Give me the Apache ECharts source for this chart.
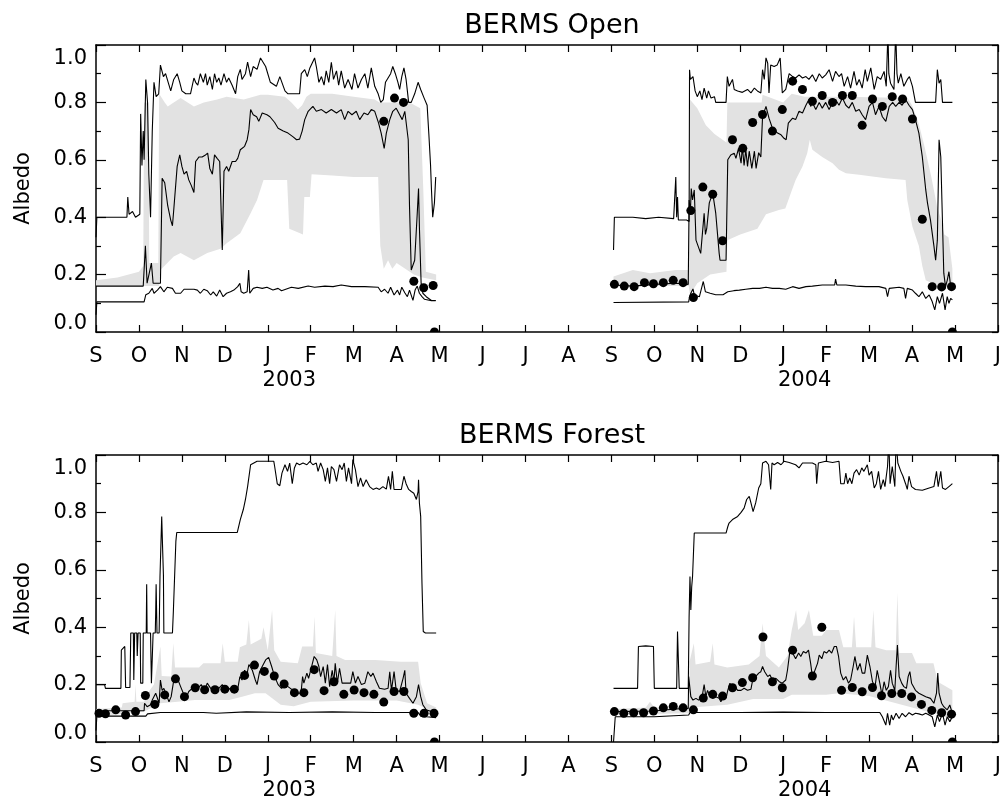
<!DOCTYPE html>
<html>
<head>
    <meta charset="UTF-8">
    <title>BERMS Albedo</title>
    <script src="https://cdn.jsdelivr.net/npm/echarts@6/dist/echarts.min.js"></script>
    <style>
        html, body { margin: 0; padding: 0; background: #fff; }
        #chartContainer { width: 1004px; height: 803px; }
    </style>
</head>
<body>
<div id="chartContainer"></div>
<script>
    // x = months since 1 Sep 2002, y = albedo
    var monthLabels = ['S','O','N','D','J','F','M','A','M','J','J','A','S','O','N','D','J','F','M','A','M','J'];
    var yearTicks = [4.5, 16.5];
    var yearLabels = ['2003', '2004'];
    var panelTitles = ['BERMS Open', 'BERMS Forest'];

    // ---- BERMS Open, winter 2002/03 ----
    var openMax1 = [[0,0.33],[0.02,0.40],[0.3,0.40],[0.5,0.40],[0.72,0.40],[0.74,0.47],[0.77,0.41],[0.85,0.42],[0.92,0.40],[1.02,0.41],
        [1.04,0.76],[1.07,0.58],[1.10,0.70],[1.12,0.60],[1.16,0.88],[1.20,0.80],[1.23,0.55],[1.27,0.40],[1.31,0.70],[1.35,0.87],[1.40,0.82],[1.46,0.83],[1.50,0.93],
        [1.57,0.89],[1.62,0.90],[1.70,0.86],[1.74,0.84],[1.81,0.88],[1.89,0.90],[1.95,0.87],[2.0,0.84],[2.09,0.83],[2.2,0.83],[2.28,0.885],[2.32,0.87],[2.37,0.86],
        [2.43,0.90],[2.5,0.87],[2.55,0.90],[2.59,0.86],[2.65,0.89],[2.71,0.845],[2.76,0.90],[2.81,0.87],[2.86,0.885],[2.91,0.86],[2.98,0.90],[3.04,0.87],[3.09,0.885],
        [3.17,0.86],[3.25,0.83],[3.30,0.89],[3.36,0.915],[3.40,0.88],[3.48,0.90],[3.53,0.94],[3.6,0.89],[3.66,0.925],[3.75,0.915],[3.83,0.955],[3.87,0.96],[3.95,0.925],
        [4.06,0.87],[4.20,0.856],[4.28,0.89],[4.40,0.84],[4.47,0.83],[4.74,0.83],[4.78,0.90],[4.86,0.914],[4.92,0.89],[4.98,0.92],[5.09,0.955],[5.13,0.925],[5.19,0.87],
        [5.25,0.89],[5.31,0.86],[5.36,0.91],[5.42,0.87],[5.48,0.94],[5.53,0.88],[5.60,0.91],[5.65,0.86],[5.71,0.91],[5.79,0.85],[5.87,0.88],[5.96,0.845],[6.02,0.90],
        [6.10,0.85],[6.18,0.88],[6.26,0.90],[6.33,0.85],[6.41,0.92],[6.49,0.856],[6.57,0.83],[6.63,0.80],[6.69,0.81],[6.74,0.87],[6.80,0.885],[6.86,0.90],[6.91,0.925],
        [6.97,0.90],[7.03,0.87],[7.07,0.845],[7.12,0.89],[7.17,0.92],[7.22,0.88],[7.28,0.80],[7.34,0.80],[7.42,0.83],[7.50,0.87],[7.56,0.845],[7.64,0.815],[7.71,0.79],
        [7.75,0.69],[7.79,0.58],[7.81,0.50],[7.84,0.40],[7.88,0.45],[7.91,0.54]];
    var openMean1 = [[0,0.16],[0.7,0.16],[0.72,0.165],[1.1,0.16],[1.15,0.30],[1.19,0.17],[1.23,0.17],[1.29,0.24],[1.33,0.17],[1.50,0.17],[1.54,0.536],[1.60,0.52],
        [1.67,0.44],[1.74,0.39],[1.78,0.37],[1.81,0.425],[1.89,0.577],[1.95,0.617],[2.0,0.577],[2.05,0.55],[2.11,0.56],[2.16,0.53],[2.22,0.51],[2.28,0.486],[2.32,0.594],
        [2.40,0.61],[2.47,0.61],[2.55,0.617],[2.60,0.623],[2.65,0.57],[2.71,0.55],[2.76,0.617],[2.82,0.605],[2.88,0.594],[2.94,0.286],[2.98,0.56],[3.04,0.577],[3.09,0.56],
        [3.17,0.594],[3.25,0.594],[3.30,0.605],[3.36,0.635],[3.46,0.647],[3.52,0.67],[3.56,0.705],[3.60,0.775],[3.66,0.757],[3.74,0.75],[3.79,0.734],[3.87,0.763],
        [3.98,0.757],[4.05,0.75],[4.16,0.73],[4.24,0.71],[4.36,0.70],[4.47,0.693],[4.59,0.68],[4.67,0.67],[4.74,0.672],[4.80,0.70],[4.86,0.74],[4.94,0.769],[5.05,0.786],
        [5.13,0.769],[5.25,0.775],[5.36,0.763],[5.48,0.775],[5.60,0.763],[5.71,0.775],[5.79,0.74],[5.87,0.769],[5.96,0.757],[6.06,0.769],[6.14,0.74],[6.24,0.763],
        [6.33,0.757],[6.41,0.775],[6.49,0.769],[6.58,0.728],[6.64,0.693],[6.71,0.64],[6.76,0.693],[6.84,0.74],[6.91,0.769],[6.99,0.78],[7.07,0.757],[7.13,0.74],
        [7.19,0.769],[7.22,0.775],[7.27,0.67],[7.30,0.437],[7.34,0.216],[7.38,0.216],[7.42,0.25],[7.48,0.414],[7.51,0.50],[7.53,0.367],[7.57,0.17],[7.61,0.135],
        [7.69,0.123],[7.81,0.11],[7.91,0.11]];
    var openMin1 = [[0,0.06],[0.02,0.105],[1.12,0.105],[1.16,0.13],[1.23,0.135],[1.31,0.152],[1.35,0.135],[1.43,0.146],[1.50,0.158],[1.58,0.14],[1.66,0.156],
        [1.78,0.152],[1.85,0.135],[1.97,0.135],[2.05,0.149],[2.28,0.149],[2.36,0.146],[2.43,0.135],[2.51,0.149],[2.59,0.144],[2.67,0.129],[2.73,0.14],[2.81,0.125],
        [2.88,0.146],[2.96,0.123],[3.04,0.135],[3.13,0.14],[3.21,0.146],[3.30,0.158],[3.35,0.17],[3.38,0.14],[3.44,0.135],[3.52,0.14],[3.555,0.216],[3.58,0.135],
        [3.66,0.152],[3.75,0.156],[3.87,0.152],[3.98,0.156],[4.12,0.146],[4.24,0.152],[4.32,0.144],[4.55,0.156],[4.71,0.152],[4.94,0.16],[5.09,0.156],[5.33,0.16],
        [5.52,0.158],[5.71,0.164],[5.95,0.158],[6.26,0.158],[6.57,0.156],[6.64,0.14],[6.72,0.149],[6.80,0.135],[6.86,0.156],[6.94,0.129],[7.02,0.146],[7.07,0.129],
        [7.12,0.156],[7.19,0.137],[7.25,0.123],[7.30,0.146],[7.38,0.11],[7.43,0.146],[7.48,0.16],[7.53,0.135],[7.59,0.123],[7.65,0.114],[7.81,0.109],[7.91,0.109]];
    var openBandHi1 = [[0,0.18],[0.5,0.19],[1.0,0.21],[1.10,0.23],[1.12,0.80],[1.22,0.80],[1.24,0.24],[1.45,0.24],[1.47,0.83],[1.60,0.80],[1.67,0.786],[1.81,0.80],
        [1.97,0.815],[2.28,0.786],[2.51,0.80],[2.82,0.81],[3.04,0.82],[3.44,0.81],[3.83,0.827],[4.0,0.827],[4.40,0.82],[4.55,0.80],[4.70,0.775],[4.80,0.79],[4.90,0.82],
        [5.0,0.83],[5.5,0.83],[6.0,0.82],[6.49,0.81],[6.60,0.80],[7.30,0.80],[7.55,0.78],[7.62,0.50],[7.68,0.21],[7.92,0.20]];
    var openBandLo1 = [[0,0.16],[1.47,0.16],[1.50,0.216],[1.66,0.24],[1.81,0.263],[1.97,0.275],[2.28,0.25],[2.59,0.275],[2.9,0.29],[3.05,0.31],[3.36,0.344],
        [3.60,0.414],[3.75,0.46],[3.9,0.53],[4.45,0.53],[4.5,0.36],[4.82,0.34],[4.85,0.47],[4.98,0.47],[5.02,0.55],[5.5,0.545],[6.0,0.54],[6.57,0.54],[6.62,0.30],
        [6.70,0.22],[6.80,0.25],[6.90,0.22],[7.0,0.24],[7.2,0.22],[7.4,0.20],[7.6,0.19],[7.92,0.18]];
    var openDots1 = [[6.70,0.734],[6.95,0.815],[7.16,0.80],[7.40,0.177],[7.63,0.154],[7.85,0.162]];
    var openZero1 = [[7.88,0]];

    // ---- BERMS Open, winter 2003/04 ----
    var openMax2 = [[12.05,0.286],[12.07,0.40],[12.5,0.40],[12.8,0.395],[13.1,0.40],[13.45,0.395],[13.49,0.40],[13.50,0.54],[13.52,0.40],[13.54,0.47],[13.56,0.39],
        [13.75,0.39],[13.81,0.385],[13.82,0.914],[13.84,0.88],[13.90,0.89],[13.95,0.84],[14.0,0.82],[14.06,0.84],[14.11,0.81],[14.16,0.85],[14.22,0.815],[14.26,0.84],
        [14.32,0.815],[14.40,0.82],[14.43,0.80],[14.67,0.80],[14.70,0.89],[14.74,0.856],[14.78,0.85],[14.82,0.88],[14.86,0.845],[14.94,0.84],[15.05,0.835],[15.17,0.845],
        [15.25,0.833],[15.33,0.85],[15.40,0.84],[15.48,0.833],[15.52,0.914],[15.56,0.88],[15.60,0.955],[15.64,0.937],[15.67,0.833],[15.71,0.93],[15.79,0.925],
        [15.86,0.93],[15.93,0.955],[15.98,0.833],[16.06,0.845],[16.14,0.90],[16.22,0.89],[16.29,0.885],[16.37,0.896],[16.45,0.885],[16.53,0.89],[16.60,0.88],
        [16.68,0.896],[16.76,0.873],[16.84,0.90],[16.91,0.885],[16.99,0.896],[17.07,0.914],[17.15,0.873],[17.22,0.908],[17.30,0.89],[17.36,0.90],[17.42,0.856],
        [17.50,0.89],[17.57,0.85],[17.65,0.908],[17.71,0.86],[17.77,0.88],[17.84,0.85],[17.91,0.914],[17.96,0.873],[18.04,0.92],[18.12,0.845],[18.19,0.89],[18.27,0.88],
        [18.35,0.908],[18.40,0.856],[18.44,1.05],[18.46,0.90],[18.50,0.867],[18.58,0.845],[18.62,1.05],[18.65,0.90],[18.68,0.867],[18.74,0.90],[18.81,0.856],
        [18.89,0.88],[18.94,0.89],[19.01,0.856],[19.08,0.80],[19.55,0.80],[19.59,0.914],[19.63,0.867],[19.67,0.88],[19.71,0.80],[19.86,0.80],[19.94,0.80]];
    var openMean2 = [[12.05,0.164],[12.5,0.16],[13.0,0.166],[13.5,0.17],[13.79,0.166],[13.81,0.46],[13.84,0.42],[13.86,0.50],[13.89,0.46],[13.93,0.495],[13.97,0.32],
        [14.08,0.274],[14.16,0.414],[14.19,0.34],[14.22,0.36],[14.28,0.45],[14.36,0.484],[14.43,0.414],[14.51,0.274],[14.53,0.25],[14.67,0.25],[14.71,0.60],
        [14.78,0.617],[14.86,0.623],[14.90,0.605],[14.96,0.64],[15.02,0.588],[15.05,0.646],[15.09,0.58],[15.13,0.635],[15.17,0.577],[15.21,0.63],[15.27,0.57],
        [15.33,0.63],[15.37,0.57],[15.43,0.625],[15.48,0.61],[15.52,0.75],[15.60,0.786],[15.64,0.79],[15.67,0.745],[15.75,0.71],[15.87,0.693],[15.95,0.687],
        [16.02,0.675],[16.07,0.67],[16.12,0.728],[16.22,0.745],[16.29,0.74],[16.37,0.769],[16.45,0.763],[16.53,0.79],[16.60,0.81],[16.64,0.786],[16.68,0.80],
        [16.76,0.775],[16.84,0.80],[16.91,0.78],[16.99,0.80],[17.07,0.775],[17.15,0.80],[17.22,0.81],[17.30,0.79],[17.38,0.815],[17.46,0.79],[17.53,0.78],[17.61,0.80],
        [17.69,0.769],[17.77,0.775],[17.84,0.757],[17.92,0.74],[18.0,0.786],[18.08,0.80],[18.15,0.757],[18.23,0.786],[18.31,0.75],[18.39,0.734],[18.47,0.786],
        [18.55,0.80],[18.62,0.786],[18.70,0.80],[18.77,0.79],[18.85,0.81],[18.93,0.79],[19.01,0.775],[19.08,0.74],[19.16,0.693],[19.24,0.61],[19.32,0.495],
        [19.36,0.45],[19.43,0.39],[19.51,0.30],[19.55,0.25],[19.59,0.32],[19.63,0.67],[19.67,0.61],[19.71,0.38],[19.74,0.205],[19.78,0.158],[19.82,0.18],[19.86,0.21],
        [19.90,0.158],[19.94,0.152]];
    var openMin2 = [[12.05,0.103],[13.80,0.105],[13.82,0.123],[13.85,0.135],[13.90,0.15],[13.93,0.129],[14.05,0.123],[14.14,0.176],[14.19,0.14],[14.3,0.135],
        [14.43,0.13],[14.6,0.13],[14.71,0.14],[14.85,0.144],[14.98,0.146],[15.13,0.149],[15.29,0.152],[15.45,0.152],[15.60,0.156],[15.75,0.152],[15.91,0.152],
        [16.06,0.149],[16.22,0.158],[16.37,0.152],[16.53,0.158],[16.68,0.16],[16.91,0.164],[17.20,0.164],[17.22,0.184],[17.25,0.164],[17.46,0.164],[17.69,0.16],
        [17.92,0.158],[18.23,0.158],[18.39,0.152],[18.43,0.123],[18.47,0.152],[18.70,0.156],[18.81,0.152],[18.85,0.117],[18.89,0.152],[19.01,0.146],[19.08,0.135],
        [19.16,0.123],[19.24,0.14],[19.32,0.117],[19.40,0.129],[19.47,0.106],[19.53,0.077],[19.59,0.123],[19.64,0.10],[19.71,0.135],[19.77,0.077],[19.82,0.123],
        [19.86,0.10],[19.90,0.117],[19.94,0.112]];
    var openBandHi2 = [[12.05,0.193],[12.5,0.216],[12.9,0.205],[13.5,0.216],[13.80,0.216],[13.83,0.81],[14.0,0.78],[14.2,0.72],[14.4,0.69],[14.68,0.66],[14.70,0.80],
        [15.5,0.80],[15.52,0.827],[16.0,0.80],[16.2,0.83],[16.5,0.82],[17.5,0.82],[18.9,0.815],[19.0,0.79],[19.15,0.73],[19.3,0.64],[19.45,0.54],[19.58,0.44],
        [19.66,0.40],[19.75,0.34],[19.85,0.33],[19.94,0.22]];
    var openBandLo2 = [[12.05,0.16],[13.80,0.16],[13.83,0.13],[14.0,0.17],[14.3,0.20],[14.68,0.21],[14.70,0.32],[15.0,0.34],[15.4,0.36],[15.6,0.41],[15.9,0.425],
        [16.05,0.43],[16.18,0.484],[16.29,0.53],[16.45,0.577],[16.56,0.623],[16.62,0.67],[16.68,0.635],[16.91,0.61],[17.15,0.588],[17.30,0.565],[17.46,0.553],
        [17.77,0.548],[18.08,0.542],[18.39,0.536],[18.85,0.53],[18.89,0.46],[19.01,0.367],[19.16,0.30],[19.24,0.23],[19.32,0.18],[19.47,0.17],[19.71,0.158],[19.94,0.158]];
    var openDots2 = [[12.07,0.166],[12.30,0.16],[12.53,0.158],[12.77,0.172],[12.98,0.168],[13.21,0.172],[13.44,0.18],[13.67,0.172],[13.85,0.423],[13.91,0.12],
        [14.13,0.505],[14.36,0.48],[14.59,0.318],[14.82,0.67],[15.06,0.64],[15.29,0.73],[15.52,0.758],[15.75,0.70],[15.98,0.775],[16.22,0.874],[16.45,0.845],
        [16.68,0.804],[16.91,0.824],[17.15,0.80],[17.38,0.824],[17.61,0.824],[17.84,0.72],[18.08,0.812],[18.31,0.786],[18.54,0.82],[18.78,0.812],[19.01,0.742],
        [19.24,0.393],[19.47,0.158],[19.69,0.157],[19.92,0.158]];
    var openZero2 = [[19.94,0]];

    // ---- BERMS Forest, winter 2002/03 ----
    var forestMax1 = [[0,0.20],[0.2,0.20],[0.22,0.187],[0.58,0.187],[0.59,0.32],[0.67,0.333],[0.69,0.19],[0.79,0.19],[0.81,0.38],[0.87,0.38],[0.88,0.216],[0.90,0.38],
        [0.95,0.38],[0.96,0.30],[0.98,0.38],[1.03,0.38],[1.04,0.205],[1.09,0.205],[1.10,0.38],[1.17,0.38],[1.18,0.55],[1.19,0.38],[1.27,0.38],[1.29,0.205],[1.32,0.205],
        [1.33,0.38],[1.38,0.38],[1.39,0.45],[1.40,0.55],[1.42,0.38],[1.47,0.38],[1.49,0.577],[1.53,0.786],[1.55,0.68],[1.57,0.58],[1.58,0.38],[1.78,0.38],[1.80,0.45],
        [1.86,0.70],[1.88,0.73],[3.29,0.73],[3.36,0.775],[3.43,0.81],[3.48,0.845],[3.53,0.89],[3.60,0.966],[3.64,0.972],[3.75,0.978],[4.14,0.978],[4.16,0.96],
        [4.22,0.90],[4.28,0.893],[4.33,0.937],[4.40,0.966],[4.46,0.943],[4.51,0.972],[4.57,0.90],[4.62,0.955],[4.67,0.972],[4.74,0.966],[4.82,0.972],[4.91,0.966],
        [4.98,0.978],[5.05,0.966],[5.13,0.972],[5.17,0.943],[5.23,0.972],[5.29,0.949],[5.34,0.908],[5.39,0.955],[5.44,0.90],[5.48,0.96],[5.54,0.949],[5.60,0.908],
        [5.67,0.966],[5.73,0.949],[5.78,0.972],[5.83,0.908],[5.88,0.955],[5.95,0.90],[5.98,0.984],[6.04,0.949],[6.10,0.89],[6.16,0.92],[6.22,0.89],[6.29,0.914],
        [6.37,0.89],[6.45,0.88],[6.53,0.885],[6.60,0.88],[6.68,0.89],[6.76,0.881],[6.81,0.926],[6.86,0.88],[6.90,0.943],[6.94,0.88],[7.02,0.88],[7.11,0.88],
        [7.17,0.926],[7.22,0.90],[7.28,0.88],[7.34,0.873],[7.40,0.867],[7.46,0.845],[7.50,0.873],[7.51,0.914],[7.53,0.833],[7.56,0.786],[7.59,0.553],[7.62,0.385],
        [7.67,0.38],[7.92,0.38]];
    var forestMean1 = [[0,0.109],[1.12,0.109],[1.13,0.135],[1.19,0.123],[1.27,0.13],[1.31,0.146],[1.39,0.17],[1.47,0.135],[1.50,0.216],[1.54,0.18],[1.58,0.187],
        [1.64,0.164],[1.70,0.14],[1.75,0.158],[1.80,0.205],[1.85,0.228],[1.91,0.216],[1.97,0.193],[2.05,0.164],[2.11,0.158],[2.16,0.176],[2.24,0.187],[2.32,0.193],
        [2.37,0.187],[2.45,0.20],[2.53,0.18],[2.59,0.205],[2.67,0.187],[2.73,0.18],[2.78,0.193],[2.86,0.187],[2.94,0.20],[3.02,0.184],[3.09,0.187],[3.21,0.176],
        [3.29,0.176],[3.35,0.228],[3.40,0.216],[3.46,0.25],[3.52,0.24],[3.56,0.27],[3.64,0.25],[3.71,0.216],[3.75,0.20],[3.81,0.245],[3.87,0.263],[3.95,0.286],
        [4.02,0.295],[4.09,0.263],[4.16,0.228],[4.24,0.20],[4.32,0.187],[4.40,0.20],[4.47,0.193],[4.59,0.18],[4.67,0.17],[4.75,0.17],[4.78,0.18],[4.81,0.228],
        [4.84,0.205],[4.91,0.24],[4.95,0.222],[5.02,0.263],[5.08,0.298],[5.14,0.286],[5.19,0.263],[5.23,0.228],[5.29,0.263],[5.34,0.205],[5.39,0.27],[5.44,0.193],
        [5.50,0.25],[5.54,0.21],[5.57,0.274],[5.62,0.205],[5.67,0.257],[5.73,0.205],[5.93,0.205],[5.98,0.245],[6.04,0.205],[6.10,0.228],[6.18,0.20],[6.26,0.205],
        [6.33,0.245],[6.40,0.228],[6.45,0.24],[6.53,0.21],[6.60,0.187],[6.72,0.184],[6.80,0.187],[6.84,0.245],[6.88,0.18],[6.94,0.245],[6.99,0.18],[7.07,0.176],
        [7.15,0.222],[7.19,0.25],[7.22,0.17],[7.30,0.152],[7.38,0.135],[7.46,0.158],[7.51,0.20],[7.56,0.158],[7.61,0.13],[7.69,0.112],[7.81,0.106],[7.92,0.10]];
    var forestMin1 = [[0,0.04],[0.02,0.09],[1.16,0.09],[1.20,0.098],[1.50,0.103],[2.5,0.103],[2.8,0.10],[2.84,0.103],[3.5,0.105],[4.5,0.103],[5.5,0.105],
        [6.5,0.103],[7.5,0.103],[7.56,0.09],[7.7,0.088],[7.92,0.085]];
    var forestBandHi1 = [[0,0.115],[0.6,0.12],[0.62,0.135],[0.9,0.14],[0.92,0.20],[0.94,0.14],[1.12,0.14],[1.2,0.17],[1.35,0.20],[1.50,0.333],[1.53,0.23],[1.75,0.228],
        [1.80,0.344],[1.84,0.26],[2.0,0.26],[2.4,0.26],[2.5,0.274],[2.9,0.274],[2.95,0.344],[3.0,0.28],[3.3,0.28],[3.35,0.33],[3.5,0.34],[3.56,0.425],[3.6,0.34],
        [3.85,0.36],[3.9,0.40],[4.0,0.32],[4.1,0.46],[4.15,0.32],[4.3,0.28],[4.7,0.274],[4.8,0.333],[5.05,0.333],[5.09,0.437],[5.12,0.31],[5.5,0.30],[5.57,0.46],
        [5.6,0.30],[5.8,0.286],[6.5,0.286],[7.1,0.28],[7.5,0.28],[7.56,0.205],[7.71,0.135],[7.92,0.12]];
    var forestBandLo1 = [[0,0.088],[1.12,0.106],[1.5,0.135],[1.9,0.14],[2.3,0.146],[3.1,0.146],[3.4,0.158],[3.7,0.17],[3.95,0.17],[4.3,0.13],[4.6,0.125],[5.0,0.14],
        [6.0,0.145],[7.0,0.145],[7.5,0.13],[7.92,0.10]];
    var forestDots1 = [[0.07,0.10],[0.22,0.098],[0.46,0.112],[0.69,0.094],[0.92,0.106],[1.15,0.162],[1.37,0.131],[1.60,0.164],[1.85,0.22],[2.06,0.158],[2.31,0.189],
        [2.53,0.182],[2.77,0.182],[3.0,0.184],[3.22,0.184],[3.46,0.232],[3.69,0.268],[3.92,0.246],[4.15,0.23],[4.38,0.202],[4.62,0.172],[4.84,0.172],[5.08,0.252],
        [5.31,0.179],[5.54,0.21],[5.77,0.166],[6.01,0.181],[6.24,0.172],[6.47,0.166],[6.70,0.139],[6.94,0.176],[7.17,0.176],[7.40,0.10],[7.64,0.10],[7.87,0.10]];
    var forestZero1 = [[7.88,0]];

    // ---- BERMS Forest, winter 2003/04 ----
    var forestMax2 = [[12.05,0.187],[12.61,0.187],[12.63,0.333],[12.8,0.335],[12.98,0.333],[13.00,0.187],[13.52,0.187],[13.54,0.385],[13.58,0.187],[13.79,0.187],
        [13.81,0.437],[13.83,0.577],[13.85,0.46],[13.87,0.54],[13.89,0.577],[13.93,0.728],[14.67,0.728],[14.71,0.75],[14.74,0.763],[14.82,0.775],[14.94,0.786],
        [15.02,0.80],[15.09,0.815],[15.15,0.845],[15.21,0.856],[15.25,0.833],[15.30,0.803],[15.36,0.833],[15.43,0.885],[15.48,0.90],[15.52,0.972],[15.60,0.978],
        [15.66,0.966],[15.69,0.966],[15.71,0.88],[15.74,0.972],[15.79,0.966],[15.87,0.974],[15.95,0.966],[16.02,0.978],[16.14,0.974],[16.29,0.966],[16.37,0.955],
        [16.45,0.972],[16.68,0.972],[16.76,0.966],[16.78,0.90],[16.82,0.972],[16.99,0.978],[17.15,0.974],[17.30,0.978],[17.34,0.90],[17.42,0.90],[17.46,0.937],
        [17.50,0.90],[17.55,0.92],[17.60,0.90],[17.65,0.937],[17.71,0.949],[17.77,0.93],[17.83,0.955],[17.88,0.943],[17.96,0.966],[18.0,0.93],[18.06,0.943],
        [18.12,0.885],[18.17,0.90],[18.22,0.943],[18.27,0.88],[18.33,0.914],[18.37,0.89],[18.43,0.96],[18.46,1.05],[18.49,0.90],[18.54,0.96],[18.60,0.89],[18.63,1.05],
        [18.67,0.972],[18.74,0.943],[18.79,0.926],[18.85,0.90],[18.89,0.88],[18.93,0.926],[18.99,0.89],[19.08,0.88],[19.24,0.877],[19.40,0.885],[19.51,0.89],
        [19.57,0.943],[19.61,0.89],[19.67,0.943],[19.71,0.885],[19.78,0.88],[19.86,0.89],[19.94,0.90]];
    var forestMean2 = [[12.05,0.106],[13.0,0.108],[13.5,0.115],[13.79,0.117],[13.80,0.228],[13.85,0.158],[13.90,0.146],[13.97,0.152],[14.03,0.146],[14.08,0.152],
        [14.12,0.164],[14.16,0.20],[14.20,0.158],[14.24,0.18],[14.28,0.164],[14.36,0.152],[14.43,0.158],[14.51,0.152],[14.55,0.14],[14.63,0.17],[14.67,0.152],
        [14.71,0.18],[14.76,0.205],[14.82,0.187],[14.88,0.193],[14.94,0.18],[15.02,0.18],[15.09,0.187],[15.17,0.18],[15.25,0.184],[15.29,0.216],[15.36,0.228],
        [15.43,0.24],[15.48,0.245],[15.52,0.263],[15.57,0.245],[15.64,0.228],[15.69,0.234],[15.75,0.216],[15.83,0.222],[15.91,0.21],[15.98,0.205],[16.06,0.216],
        [16.10,0.25],[16.16,0.32],[16.22,0.31],[16.29,0.29],[16.36,0.31],[16.41,0.298],[16.47,0.315],[16.53,0.31],[16.59,0.32],[16.64,0.274],[16.68,0.228],
        [16.74,0.25],[16.80,0.274],[16.84,0.303],[16.90,0.29],[16.95,0.315],[17.01,0.31],[17.07,0.32],[17.13,0.31],[17.19,0.333],[17.24,0.333],[17.29,0.298],
        [17.34,0.24],[17.40,0.216],[17.46,0.228],[17.52,0.205],[17.57,0.216],[17.63,0.263],[17.67,0.298],[17.73,0.25],[17.79,0.274],[17.84,0.24],[17.90,0.24],
        [17.96,0.303],[18.02,0.263],[18.08,0.21],[18.14,0.193],[18.19,0.25],[18.25,0.205],[18.30,0.164],[18.35,0.21],[18.40,0.18],[18.45,0.193],[18.50,0.25],
        [18.54,0.205],[18.60,0.18],[18.63,0.263],[18.66,0.338],[18.70,0.228],[18.76,0.205],[18.81,0.193],[18.87,0.187],[18.91,0.228],[18.95,0.245],[18.99,0.205],
        [19.08,0.18],[19.16,0.17],[19.24,0.164],[19.32,0.158],[19.43,0.152],[19.51,0.135],[19.57,0.17],[19.60,0.24],[19.63,0.17],[19.69,0.135],[19.74,0.123],
        [19.82,0.112],[19.88,0.129],[19.94,0.10]];
    var forestMin2 = [[12.05,0.0],[12.09,0.088],[13.0,0.088],[13.03,0.094],[13.80,0.094],[13.83,0.103],[15.0,0.103],[16.0,0.104],[17.0,0.103],[18.25,0.103],
        [18.31,0.088],[18.39,0.059],[18.43,0.10],[18.48,0.059],[18.52,0.094],[18.56,0.077],[18.63,0.10],[18.70,0.082],[18.77,0.10],[18.85,0.088],[18.93,0.102],
        [19.01,0.094],[19.08,0.10],[19.16,0.098],[19.24,0.094],[19.32,0.10],[19.40,0.094],[19.47,0.088],[19.53,0.053],[19.59,0.094],[19.64,0.071],[19.71,0.10],
        [19.77,0.059],[19.82,0.088],[19.88,0.071],[19.94,0.088]];
    var forestBandHi2 = [[12.05,0.115],[12.8,0.12],[12.9,0.14],[13.0,0.12],[13.8,0.12],[13.82,0.28],[13.92,0.344],[13.96,0.27],[14.3,0.28],[14.36,0.344],[14.4,0.27],
        [14.7,0.26],[15.2,0.27],[15.45,0.30],[15.52,0.414],[15.6,0.30],[15.9,0.26],[16.1,0.30],[16.2,0.39],[16.3,0.46],[16.35,0.39],[16.5,0.414],[16.6,0.46],
        [16.7,0.37],[16.9,0.37],[17.0,0.39],[17.3,0.39],[17.4,0.33],[17.6,0.33],[17.65,0.437],[17.7,0.33],[18.05,0.33],[18.1,0.46],[18.15,0.33],[18.4,0.32],
        [18.62,0.32],[18.66,0.52],[18.7,0.31],[19.0,0.31],[19.1,0.274],[19.5,0.274],[19.6,0.21],[19.94,0.18]];
    var forestBandLo2 = [[12.05,0.095],[13.8,0.10],[13.85,0.12],[14.7,0.13],[15.3,0.15],[16.0,0.15],[16.2,0.165],[17.0,0.165],[17.3,0.17],[18.0,0.16],[18.5,0.14],
        [19.0,0.12],[19.5,0.10],[19.94,0.08]];
    var forestDots2 = [[12.07,0.106],[12.29,0.10],[12.52,0.102],[12.75,0.102],[12.98,0.108],[13.21,0.119],[13.44,0.124],[13.67,0.119],[13.91,0.112],[14.14,0.153],
        [14.36,0.166],[14.59,0.16],[14.82,0.189],[15.05,0.207],[15.29,0.224],[15.53,0.366],[15.75,0.21],[15.98,0.189],[16.22,0.32],[16.68,0.23],[16.90,0.40],
        [17.36,0.18],[17.61,0.19],[17.84,0.175],[18.08,0.19],[18.29,0.161],[18.53,0.169],[18.76,0.169],[18.99,0.157],[19.22,0.131],[19.46,0.11],[19.69,0.102],
        [19.92,0.097]];
    var forestZero2 = [[19.94,0]];

    var FONT = 'DejaVu Sans';

    function bandSeries(p, hi, lo) {
        var pts = hi.concat(lo.slice().reverse());
        return {
            type: 'custom', xAxisIndex: p * 3, yAxisIndex: p * 2, z: 1, silent: true,
            data: [[0, 0]],
            renderItem: function (params, api) {
                var poly = pts.map(function (pt) { return api.coord(pt); });
                return { type: 'polygon', shape: { points: poly }, style: { fill: '#e2e2e2' } };
            }
        };
    }

    function lineSeries(p, data) {
        return {
            type: 'line', xAxisIndex: p * 3, yAxisIndex: p * 2, data: data,
            symbol: 'none', showSymbol: false, silent: true, z: 3,
            lineStyle: { color: '#000', width: 1.1 }
        };
    }

    function dotSeries(p, data) {
        return {
            type: 'scatter', xAxisIndex: p * 3, yAxisIndex: p * 2, data: data,
            symbol: 'circle', symbolSize: 9, silent: true, z: 4,
            itemStyle: { color: '#000', opacity: 1 }
        };
    }

    // dot sitting on the zero line, only the upper half shows
    function zeroSeries(p, data) {
        return {
            type: 'scatter', xAxisIndex: p * 3, yAxisIndex: p * 2, data: data,
            symbol: 'path://M0,10A10,10,0,0,1,20,10Z', symbolSize: [9, 4.5], symbolOffset: [0, -2.25],
            silent: true, z: 4, itemStyle: { color: '#000', opacity: 1 }
        };
    }

    var panels = [
        { max: [openMax1, openMax2], mean: [openMean1, openMean2], min: [openMin1, openMin2],
          hi: [openBandHi1, openBandHi2], lo: [openBandLo1, openBandLo2],
          dots: [openDots1, openDots2], zero: [openZero1, openZero2] },
        { max: [forestMax1, forestMax2], mean: [forestMean1, forestMean2], min: [forestMin1, forestMin2],
          hi: [forestBandHi1, forestBandHi2], lo: [forestBandLo1, forestBandLo2],
          dots: [forestDots1, forestDots2], zero: [forestZero1, forestZero2] }
    ];

    var gridTops = [45, 455];
    var grids = [], xAxes = [], yAxes = [], series = [], titles = [];

    panels.forEach(function (pn, p) {
        grids.push({ left: 96, top: gridTops[p], width: 902, height: 287 });
        titles.push({
            text: panelTitles[p], left: 547, top: gridTops[p] - 38, textAlign: 'center',
            textStyle: { fontFamily: FONT, fontSize: 27, fontWeight: 'normal', color: '#000' }
        });
        var boxLine = { show: true, onZero: false, lineStyle: { color: '#000', width: 1.5 } };
        xAxes.push({
            type: 'value', gridIndex: p, min: 0, max: 21, interval: 1, position: 'bottom',
            axisLine: boxLine,
            axisTick: { inside: true, length: 7, lineStyle: { color: '#000', width: 1.2 } },
            axisLabel: {
                showMinLabel: true, showMaxLabel: true, margin: 14,
                color: '#000', fontFamily: FONT, fontSize: 21,
                formatter: function (v) { return monthLabels[Math.round(v)]; }
            },
            splitLine: { show: false }
        });
        xAxes.push({
            type: 'value', gridIndex: p, min: 0, max: 21, interval: 1, position: 'top',
            axisLine: boxLine,
            axisTick: { inside: true, length: 7, lineStyle: { color: '#000', width: 1.2 } },
            axisLabel: { show: false },
            splitLine: { show: false }
        });
        xAxes.push({
            type: 'value', gridIndex: p, min: 0, max: 21, interval: 0.5, position: 'bottom',
            axisLine: { show: false }, axisTick: { show: false }, splitLine: { show: false },
            axisLabel: {
                margin: 38, color: '#000', fontFamily: FONT, fontSize: 21,
                formatter: function (v) {
                    var k = yearTicks.indexOf(v);
                    return k >= 0 ? yearLabels[k] : '';
                }
            }
        });
        yAxes.push({
            type: 'value', gridIndex: p, min: 0, max: 1, interval: 0.2, position: 'left',
            name: 'Albedo', nameLocation: 'middle', nameGap: 62,
            nameTextStyle: { fontFamily: FONT, fontSize: 21, color: '#000' },
            axisLine: boxLine,
            axisTick: { inside: true, length: 10, lineStyle: { color: '#000', width: 1.2 } },
            minorTick: { show: true, splitNumber: 2, length: 5, lineStyle: { color: '#000', width: 1.2 } },
            axisLabel: {
                margin: 9, color: '#000', fontFamily: FONT, fontSize: 21,
                formatter: function (v) {
                    if (v === 1) return '{t|1.0}';
                    if (v === 0) return '{b|0.0}';
                    return v.toFixed(1);
                },
                rich: {
                    t: { padding: [28, 0, 0, 0], fontFamily: FONT, fontSize: 21, color: '#000' },
                    b: { padding: [0, 0, 16, 0], fontFamily: FONT, fontSize: 21, color: '#000' }
                }
            },
            splitLine: { show: false }
        });
        yAxes.push({
            type: 'value', gridIndex: p, min: 0, max: 1, interval: 0.1, position: 'right',
            axisLine: boxLine,
            axisTick: { inside: true, length: 6, lineStyle: { color: '#000', width: 1.2 } },
            axisLabel: { show: false },
            splitLine: { show: false }
        });
        for (var s = 0; s < 2; s++) {
            series.push(bandSeries(p, pn.hi[s], pn.lo[s]));
            series.push(lineSeries(p, pn.max[s]));
            series.push(lineSeries(p, pn.mean[s]));
            series.push(lineSeries(p, pn.min[s]));
            series.push(dotSeries(p, pn.dots[s]));
            series.push(zeroSeries(p, pn.zero[s]));
        }
    });

    var myChart = echarts.init(document.getElementById('chartContainer'));
    myChart.setOption({
        animation: false,
        backgroundColor: '#fff',
        title: titles,
        grid: grids,
        xAxis: xAxes,
        yAxis: yAxes,
        series: series
    });
</script>
</body>
</html>
